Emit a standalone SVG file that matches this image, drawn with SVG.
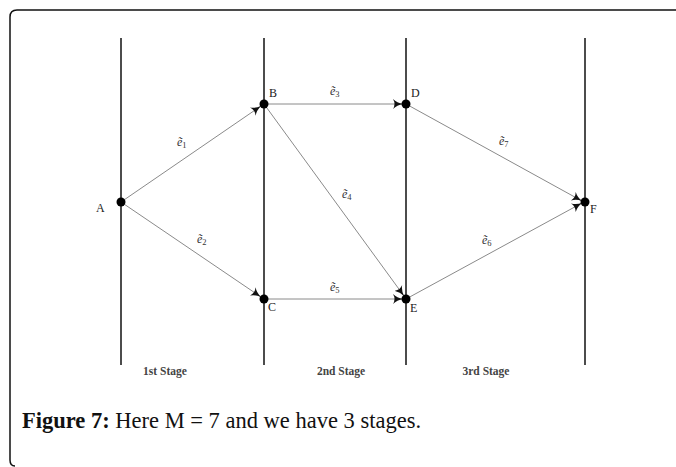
<svg xmlns="http://www.w3.org/2000/svg" width="676" height="467" viewBox="0 0 676 467">
<style>
.stage{stroke:#111;stroke-width:1.5;fill:none}
.edge{stroke:#8a8a8a;stroke-width:1;fill:none;marker-end:url(#arr)}
.dot{fill:#000}
.lbl{font-family:"Liberation Serif",serif;font-size:12px;fill:#222}
.el{font-family:"Liberation Serif",serif;font-size:12px;font-style:italic;fill:#333}
.sub{font-size:8.5px;font-style:normal}
.st{font-family:"Liberation Serif",serif;font-size:11.5px;font-weight:bold;fill:#444}
.cap{font-family:"Liberation Serif",serif;font-size:22.5px;fill:#111}
</style>
<defs>
<marker id="arr" viewBox="0 0 10 10" refX="10" refY="5" markerWidth="10" markerHeight="10" markerUnits="userSpaceOnUse" orient="auto">
<path d="M0,0 Q4,4 10,5 Q4,6 0,10 Q3,5 0,0Z" fill="#111"/>
</marker>
</defs>
<path d="M15,466 Q10,466 10,460 L10,17 Q10,10 17,10 L676,10" fill="none" stroke="#111" stroke-width="1.5"/>
<g id="stages">
<line class="stage" x1="121" y1="38" x2="121" y2="365"/>
<line class="stage" x1="264" y1="38" x2="264" y2="365"/>
<line class="stage" x1="406" y1="38" x2="406" y2="365"/>
<line class="stage" x1="585" y1="38" x2="585" y2="365"/>
</g>
<g id="connectors">
<line class="edge" x1="121" y1="202" x2="261" y2="106"/>
<line class="edge" x1="121" y1="202" x2="261" y2="297"/>
<line class="edge" x1="264" y1="104" x2="403" y2="104"/>
<line class="edge" x1="264" y1="104" x2="404" y2="296"/>
<line class="edge" x1="264" y1="299" x2="403" y2="299"/>
<line class="edge" x1="406" y1="299" x2="582" y2="203"/>
<line class="edge" x1="406" y1="104" x2="582" y2="201"/>
<text class="el" x="177" y="146">ẽ<tspan class="sub" dy="2">1</tspan></text>
<text class="el" x="197" y="243">ẽ<tspan class="sub" dy="2">2</tspan></text>
<text class="el" x="330" y="95">ẽ<tspan class="sub" dy="2">3</tspan></text>
<text class="el" x="342" y="198">ẽ<tspan class="sub" dy="2">4</tspan></text>
<text class="el" x="330" y="291">ẽ<tspan class="sub" dy="2">5</tspan></text>
<text class="el" x="482" y="244">ẽ<tspan class="sub" dy="2">6</tspan></text>
<text class="el" x="499" y="145">ẽ<tspan class="sub" dy="2">7</tspan></text>
</g>
<g id="A"><circle class="dot" cx="121" cy="202" r="4.5"/><text class="lbl" x="96" y="212">A</text></g>
<g id="B"><circle class="dot" cx="264" cy="104" r="4.5"/><text class="lbl" x="269" y="97">B</text></g>
<g id="C"><circle class="dot" cx="264" cy="299" r="4.5"/><text class="lbl" x="268" y="311">C</text></g>
<g id="D"><circle class="dot" cx="406" cy="104" r="4.5"/><text class="lbl" x="411" y="97">D</text></g>
<g id="E"><circle class="dot" cx="406" cy="299" r="4.5"/><text class="lbl" x="410" y="312">E</text></g>
<g id="F"><circle class="dot" cx="585" cy="202" r="4.5"/><text class="lbl" x="590" y="213">F</text></g>
<g id="stage-labels">
<text class="st" x="165" y="375" text-anchor="middle">1st Stage</text>
<text class="st" x="341" y="375" text-anchor="middle">2nd Stage</text>
<text class="st" x="486" y="375" text-anchor="middle">3rd Stage</text>
</g>
<text class="cap" x="22" y="428"><tspan font-weight="bold">Figure 7:</tspan> Here M = 7 and we have 3 stages.</text>
</svg>
